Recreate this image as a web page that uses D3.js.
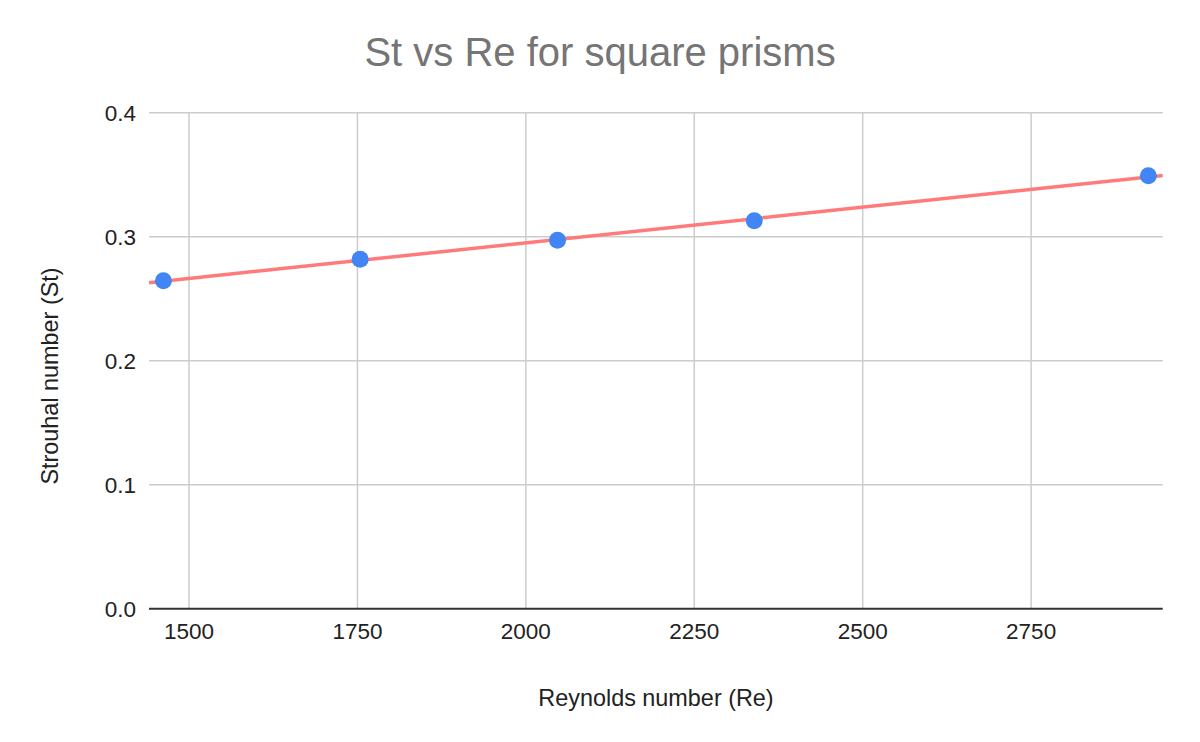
<!DOCTYPE html>
<html><head><meta charset="utf-8">
<script src="https://cdn.jsdelivr.net/npm/d3@7"></script>
<style>body{margin:0;background:#fff}svg{display:block}text{font-family:"Liberation Sans",Arial,sans-serif}</style>
</head><body><svg id="c" width="1200" height="742"></svg>
<script>
const reynolds = [1462, 1754, 2047, 2339, 2924];
const strouhal = [0.2645, 0.2818, 0.2971, 0.3129, 0.3492];
const xTicks = [1500, 1750, 2000, 2250, 2500, 2750];
const yTicks = [0.0, 0.1, 0.2, 0.3, 0.4];
const xDomain = [1440.6, 2945.3];
const yDomain = [0, 0.4];
const titleText = "St vs Re for square prisms";
const xLabel = "Reynolds number (Re)";
const yLabel = "Strouhal number (St)";

const svg = d3.select("#c");
const m = {l:149, r:1162.7, t:112.7, b:608.7};
const x = d3.scaleLinear().domain(xDomain).range([m.l, m.r]);
const y = d3.scaleLinear().domain(yDomain).range([m.b, m.t]);

// grid
svg.append("g").selectAll("line").data(yTicks.filter(d=>d>0)).join("line")
  .attr("x1", m.l).attr("x2", m.r).attr("y1", d=>y(d)).attr("y2", d=>y(d))
  .attr("stroke", "#cccccc").attr("stroke-width", 1.5);
svg.append("g").selectAll("line").data(xTicks).join("line")
  .attr("x1", d=>x(d)).attr("x2", d=>x(d)).attr("y1", m.t).attr("y2", m.b)
  .attr("stroke", "#cccccc").attr("stroke-width", 1.5);

// baseline
svg.append("line").attr("x1", m.l).attr("x2", m.r).attr("y1", y(0)).attr("y2", y(0))
  .attr("stroke", "#333333").attr("stroke-width", 2);

// tick labels
svg.append("g").selectAll("text").data(yTicks).join("text")
  .attr("x", m.l - 13).attr("y", d=>y(d)).attr("dy", "0.36em")
  .attr("text-anchor", "end").attr("font-size", 22.5).attr("fill", "#222")
  .text(d=>d3.format(".1f")(d));
svg.append("g").selectAll("text").data(xTicks).join("text")
  .attr("x", d=>x(d)).attr("y", 639)
  .attr("text-anchor", "middle").attr("font-size", 22.5).attr("fill", "#222")
  .text(d=>d);

// trendline (least squares fit of the data)
const n = reynolds.length;
const mx = d3.mean(reynolds), my = d3.mean(strouhal);
let sxy = 0, sxx = 0;
for (let i=0;i<n;i++){ sxy += (reynolds[i]-mx)*(strouhal[i]-my); sxx += (reynolds[i]-mx)**2; }
const slope = sxy/sxx, icpt = my - slope*mx;
svg.append("line")
  .attr("x1", x(xDomain[0])).attr("y1", y(icpt + slope*xDomain[0]))
  .attr("x2", x(xDomain[1])).attr("y2", y(icpt + slope*xDomain[1]))
  .attr("stroke", "#ff7b7b").attr("stroke-width", 3.5);

// points
svg.append("g").selectAll("circle").data(reynolds.map((r,i)=>[r, strouhal[i]])).join("circle")
  .attr("cx", d=>x(d[0])).attr("cy", d=>y(d[1])).attr("r", 8.5).attr("fill", "#4285f4");

// titles
svg.append("text").attr("x", 600).attr("y", 66).attr("text-anchor", "middle")
  .attr("font-size", 40).attr("fill", "#757575").text(titleText);
svg.append("text").attr("x", 656).attr("y", 706).attr("text-anchor", "middle")
  .attr("font-size", 23.4).attr("fill", "#222").text(xLabel);
svg.append("text").attr("transform", "translate(58,376) rotate(-90)").attr("text-anchor", "middle")
  .attr("font-size", 23.4).attr("fill", "#222").text(yLabel);
</script></body></html>
